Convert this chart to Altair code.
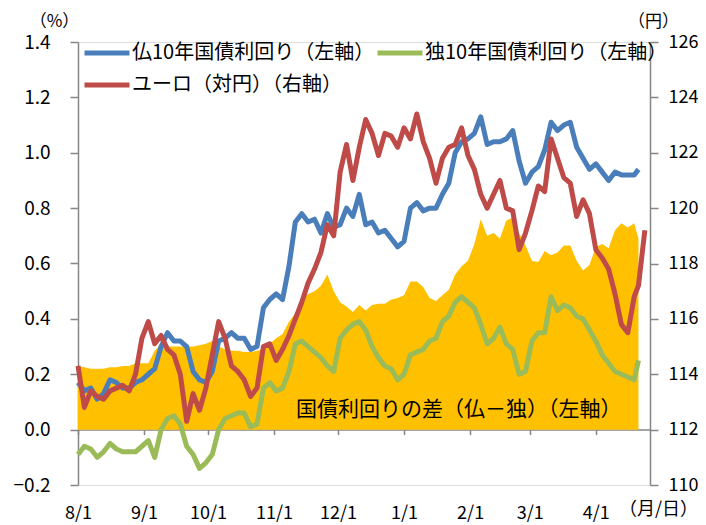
import altair as alt
import pandas as pd

# ---- data ----
dates = [
    "2016-08-01", "2016-08-04", "2016-08-07", "2016-08-10", "2016-08-13", "2016-08-16",
    "2016-08-19", "2016-08-22", "2016-08-25", "2016-08-28", "2016-08-31", "2016-09-03",
    "2016-09-06", "2016-09-09", "2016-09-12", "2016-09-15", "2016-09-18", "2016-09-21",
    "2016-09-24", "2016-09-27", "2016-09-30", "2016-10-03", "2016-10-06", "2016-10-09",
    "2016-10-12", "2016-10-15", "2016-10-18", "2016-10-21", "2016-10-24", "2016-10-27",
    "2016-10-30", "2016-11-02", "2016-11-05", "2016-11-08", "2016-11-11", "2016-11-14",
    "2016-11-17", "2016-11-20", "2016-11-23", "2016-11-26", "2016-11-29", "2016-12-02",
    "2016-12-05", "2016-12-08", "2016-12-11", "2016-12-14", "2016-12-17", "2016-12-20",
    "2016-12-23", "2016-12-26", "2016-12-29", "2017-01-01", "2017-01-04", "2017-01-07",
    "2017-01-10", "2017-01-13", "2017-01-16", "2017-01-19", "2017-01-22", "2017-01-25",
    "2017-01-28", "2017-01-31", "2017-02-03", "2017-02-06", "2017-02-09", "2017-02-12",
    "2017-02-15", "2017-02-18", "2017-02-21", "2017-02-24", "2017-02-27", "2017-03-02",
    "2017-03-05", "2017-03-08", "2017-03-11", "2017-03-14", "2017-03-17", "2017-03-20",
    "2017-03-23", "2017-03-26", "2017-03-29", "2017-04-01", "2017-04-04", "2017-04-07",
    "2017-04-10", "2017-04-13", "2017-04-16", "2017-04-19", "2017-04-21",
]
fx_dates = dates + ["2017-04-24"]

fr_yield = [
    0.17, 0.14, 0.15, 0.11, 0.13, 0.18, 0.17, 0.15, 0.15, 0.17, 0.18, 0.20,
    0.22, 0.30, 0.35, 0.32, 0.32, 0.30, 0.21, 0.18, 0.17, 0.21, 0.32, 0.33,
    0.35, 0.33, 0.33, 0.29, 0.30, 0.44, 0.47, 0.49, 0.47, 0.59, 0.75, 0.78,
    0.75, 0.76, 0.71, 0.78, 0.73, 0.74, 0.80, 0.77, 0.85, 0.74, 0.75, 0.71,
    0.72, 0.69, 0.66, 0.68, 0.80, 0.82, 0.79, 0.80, 0.80, 0.85, 0.89, 1.00,
    1.04, 1.05, 1.07, 1.13, 1.03, 1.04, 1.04, 1.05, 1.08, 0.97, 0.89, 0.93,
    0.95, 1.01, 1.11, 1.08, 1.10, 1.11, 1.02, 0.98, 0.94, 0.96, 0.93, 0.90,
    0.93, 0.92, 0.92, 0.92, 0.94,
]
de_yield = [
    -0.09, -0.06, -0.07, -0.10, -0.08, -0.05, -0.07, -0.08, -0.08, -0.08, -0.06, -0.04,
    -0.10, 0.00, 0.04, 0.05, 0.02, -0.06, -0.09, -0.14, -0.12, -0.09, 0.00, 0.04,
    0.05, 0.06, 0.06, 0.01, 0.02, 0.15, 0.17, 0.14, 0.15, 0.21, 0.31, 0.32,
    0.30, 0.28, 0.26, 0.23, 0.21, 0.33, 0.36, 0.38, 0.39, 0.36, 0.30, 0.26,
    0.23, 0.22, 0.18, 0.20, 0.27, 0.28, 0.29, 0.32, 0.33, 0.39, 0.41, 0.46,
    0.48, 0.46, 0.44, 0.38, 0.31, 0.33, 0.37, 0.31, 0.29, 0.20, 0.21, 0.32,
    0.35, 0.35, 0.48, 0.43, 0.45, 0.44, 0.41, 0.40, 0.36, 0.32, 0.27, 0.24,
    0.21, 0.20, 0.19, 0.18, 0.25,
]
spread = [
    0.23, 0.225, 0.22, 0.22, 0.22, 0.225, 0.225, 0.23, 0.23, 0.24, 0.24, 0.24,
    0.285, 0.31, 0.30, 0.30, 0.30, 0.30, 0.30, 0.305, 0.31, 0.32, 0.30, 0.29,
    0.285, 0.285, 0.28, 0.28, 0.285, 0.29, 0.31, 0.33, 0.345, 0.39, 0.42, 0.47,
    0.49, 0.50, 0.52, 0.56, 0.50, 0.46, 0.445, 0.425, 0.45, 0.43, 0.45, 0.455,
    0.455, 0.47, 0.475, 0.485, 0.535, 0.535, 0.515, 0.475, 0.465, 0.485, 0.505, 0.56,
    0.59, 0.61, 0.67, 0.76, 0.70, 0.71, 0.69, 0.755, 0.765, 0.71, 0.665, 0.61,
    0.605, 0.645, 0.63, 0.64, 0.665, 0.665, 0.61, 0.575, 0.595, 0.66, 0.67, 0.655,
    0.72, 0.745, 0.73, 0.745, 0.69,
]
eur_jpy = [
    114.3, 112.8, 113.4, 113.2, 113.1, 113.4, 113.5, 113.6, 113.4, 114.0, 115.3, 115.9,
    115.1, 115.4, 114.9, 114.7, 114.0, 112.3, 113.3, 112.7, 113.5, 114.7, 115.9, 115.3,
    114.3, 114.1, 113.8, 113.2, 113.5, 115.0, 115.1, 114.5, 114.9, 115.4, 116.0, 116.6,
    117.3, 117.8, 118.4, 119.4, 119.0, 121.3, 122.3, 121.0, 122.2, 123.2, 122.7, 121.9,
    122.7, 122.6, 122.2, 122.9, 122.5, 123.4, 122.4, 121.8, 120.9, 121.8, 122.2, 122.3,
    122.9, 121.9, 121.4, 120.5, 120.0, 120.5, 121.0, 120.0, 119.9, 118.5, 119.1, 119.9,
    120.8, 120.6, 122.5, 121.8, 121.1, 120.9, 119.7, 120.3, 119.8, 118.5, 118.2, 117.8,
    116.9, 115.8, 115.5, 116.8, 117.2, 119.2,
]

FR = "仏10年国債利回り（左軸）"
DE = "独10年国債利回り（左軸）"
FXN = "ユーロ（対円）（右軸）"
SERIES = [FR, DE, FXN]
COLORS = ["#4A7EBB", "#9BBB59", "#BE4B48"]
WIDTHS = [5, 5, 3]
AREA_COLOR = "#FFC000"
NOTE = "国債利回りの差（仏－独）（左軸）"

left_ticks = [-0.2, 0.0, 0.2, 0.4, 0.6, 0.8, 1.0, 1.2, 1.4]
right_ticks = [110, 112, 114, 116, 118, 120, 122, 124, 126]
month_ticks = [(2016, 8), (2016, 9), (2016, 10), (2016, 11), (2016, 12),
               (2017, 1), (2017, 2), (2017, 3), (2017, 4)]

FONT = "Noto Sans CJK JP"
GRAY = "#868686"

area_df = pd.DataFrame({"date": dates, "value": spread})
lines_df = pd.concat([
    pd.DataFrame({"date": dates, "value": fr_yield, "series": FR}),
    pd.DataFrame({"date": dates, "value": de_yield, "series": DE}),
], ignore_index=True)
fx_df = pd.DataFrame({"date": fx_dates, "value": eur_jpy, "series": FXN})
note_df = pd.DataFrame({"date": ["2017-04-13"], "value": [0.07], "label": [NOTE]})

x_enc = alt.X(
    "date:T",
    scale=alt.Scale(domain=[alt.DateTime(year=2016, month=8, date=1),
                            alt.DateTime(year=2017, month=4, date=26, hours=10)]),
    axis=alt.Axis(
        values=[alt.DateTime(year=y, month=m, date=1) for y, m in month_ticks],
        format="%-m/%-d", labelAngle=0, labelFlush=False, labelOverlap=False,
        labelFont=FONT, labelFontSize=18, labelColor="black",
        offset=-55.4, tickSize=5, labelPadding=70,
        domainColor=GRAY, domainWidth=1.5, tickColor=GRAY, tickWidth=1.5,
        grid=False,
        title="（月/日）", titleX=580, titleY=80, titleAlign="center",
        titleBaseline="middle", titleFont=FONT, titleFontSize=18,
        titleFontWeight="normal", titleColor="black",
    ),
)

left_axis = alt.Axis(
    values=left_ticks, format=".1f", tickSize=8, labelPadding=20,
    labelFont=FONT, labelFontSize=19, labelColor="black",
    domainColor=GRAY, domainWidth=1.5, tickColor=GRAY, tickWidth=1.5, grid=False,
    title="（%）", titleAngle=0, titleX=-24, titleY=-21, titleAlign="center",
    titleBaseline="middle", titleFont=FONT, titleFontSize=17,
    titleFontWeight="normal", titleColor="black",
)
right_axis = alt.Axis(
    orient="right", values=right_ticks, format="d", tickSize=8, labelPadding=10,
    labelFont=FONT, labelFontSize=18, labelColor="black",
    domainColor=GRAY, domainWidth=1.5, tickColor=GRAY, tickWidth=1.5, grid=False,
    title="（円）", titleAngle=0, titleX=3, titleY=-21, titleAlign="center",
    titleBaseline="middle", titleFont=FONT, titleFontSize=17,
    titleFontWeight="normal", titleColor="black",
)

y_left = alt.Y("value:Q", scale=alt.Scale(domain=[-0.2, 1.4], nice=False, zero=False),
               axis=left_axis)
y_right = alt.Y("value:Q", scale=alt.Scale(domain=[110, 126], nice=False, zero=False),
                axis=right_axis)

legend = alt.Legend(
    title=None, orient="none", legendX=4, legendY=0, columns=2, direction="horizontal",
    symbolType="stroke", symbolSize=2025, labelFont=FONT, labelFontSize=20,
    labelColor="black", labelLimit=400, labelOffset=0, columnPadding=-25,
    clipHeight=22, rowPadding=10, padding=0,
)
color_enc = alt.Color("series:N", scale=alt.Scale(domain=SERIES, range=COLORS), legend=legend)
width_enc = alt.StrokeWidth("series:N", scale=alt.Scale(domain=SERIES, range=WIDTHS), legend=legend)

area = alt.Chart(area_df).mark_area(color=AREA_COLOR, opacity=1).encode(
    x=x_enc, y=y_left, y2=alt.datum(0)
)
bond_lines = alt.Chart(lines_df).mark_line(strokeJoin="round").encode(
    x=x_enc, y=y_left, color=color_enc, strokeWidth=width_enc
)
note = alt.Chart(note_df).mark_text(
    align="right", baseline="middle", font=FONT, fontSize=21, color="black"
).encode(x=x_enc, y=y_left, text="label:N")

left_layer = alt.layer(area, bond_lines, note)

fx_line = alt.Chart(fx_df).mark_line(strokeJoin="round").encode(
    x=x_enc, y=y_right, color=color_enc, strokeWidth=width_enc
)

chart = alt.layer(left_layer, fx_line).resolve_scale(y="independent").properties(
    width=572, height=443,
    autosize=alt.AutoSizeParams(type="none"),
    padding={"left": 70, "top": 34, "right": 48, "bottom": 40},
).configure_view(stroke=None).configure(background="white")

chart.save("out.html", embed_options={"renderer": "svg", "actions": False})
